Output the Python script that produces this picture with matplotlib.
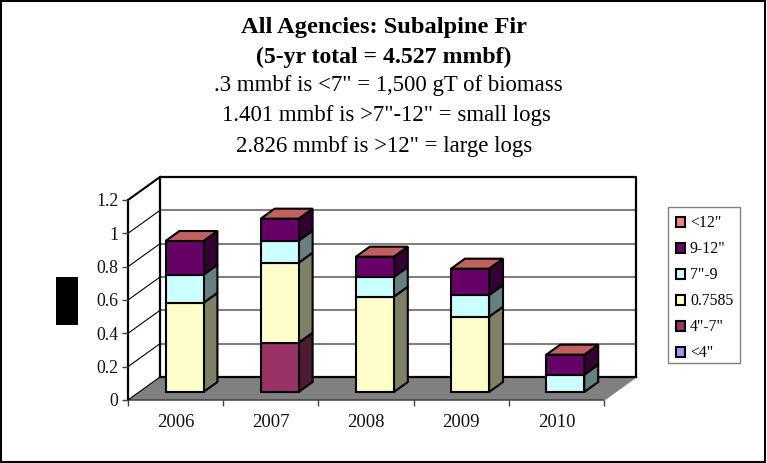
import matplotlib
matplotlib.use("Agg")
import matplotlib.pyplot as plt
from matplotlib.patches import Patch, Polygon, Rectangle

W = 767
H = 463
OUTPUT_FILE = "out.png"

years = ["2006", "2007", "2008", "2009", "2010"]
yticks = [0, 0.2, 0.4, 0.6, 0.8, 1, 1.2]
ytick_labels = ["0", "0.2", "0.4", "0.6", "0.8", "1", "1.2"]

# series, bottom to top of each stack
under_4 = [0, 0, 0, 0, 0]
from_4_to_7 = [0, 0.296, 0, 0, 0]
col_7585 = [0.535, 0.48, 0.572, 0.452, 0]
from_7_to_9 = [0.169, 0.132, 0.118, 0.13, 0.104]
from_9_to_12 = [0.202, 0.132, 0.122, 0.158, 0.12]
under_12 = [0, 0, 0, 0, 0]

series = [under_4, from_4_to_7, col_7585, from_7_to_9, from_9_to_12, under_12]
names = ['<4"', '4"-7"', "0.7585", '7"-9', '9-12"', '<12"']
colors = ["#9999FF", "#993366", "#FFFFCC", "#CCFFFF", "#660066", "#FF8080"]
side_colors = ["#4D4D80", "#4D1A33", "#808066", "#668080", "#330033", "#804040"]
top_color = "#C06060"

title_lines = [
    ("All Agencies: Subalpine Fir", "bold", 384, 28, 17.6),
    ("(5-yr total = 4.527 mmbf)", "bold", 384, 57, 17.1),
    ('.3 mmbf is <7" = 1,500 gT of biomass', "normal", 388, 86, 16.4),
    ('1.401 mmbf is >7"-12" = small logs', "normal", 386, 116, 16.4),
    ('2.826 mmbf is >12" = large logs', "normal", 384, 146, 16.4),
]

plt.rcParams["font.family"] = ["Liberation Serif", "DejaVu Serif"]

fig = plt.figure(figsize=(W / 100, H / 100), dpi=100)
ax = fig.add_axes([128 / W, (H - 400) / H, 476 / W, 200 / H])
ax.set_xlim(0, 5)
ax.set_ylim(0, 1.2)
ax.patch.set_visible(False)
for s in ax.spines.values():
    s.set_visible(False)

# oblique depth: one unit of z moves 32 px right and 23 px up
DX = 32 / 476 * 5
DY = 23 / 200 * 1.2


def pt(x, y, z):
    return (x + z * DX, y + z * DY)


def face(points, color, edge="black", lw=1.5, zorder=3):
    ax.add_patch(Polygon(points, closed=True, facecolor=color, edgecolor=edge,
                         linewidth=lw, clip_on=False, zorder=zorder, joinstyle="miter"))


# floor and walls
face([pt(0, 0, 0), pt(5, 0, 0), pt(5, 0, 1), pt(0, 0, 1)], "#808080", edge="none", zorder=1)
ax.plot(*zip(pt(0, 0, 0), pt(5, 0, 0)), color="#404040", lw=1.1, clip_on=False, zorder=1.5)
ax.plot(*zip(pt(5, 0, 0), pt(5, 0, 1)), color="#808080", lw=1.1, clip_on=False, zorder=1.5)
for t in yticks[1:-1]:
    ax.plot(*zip(pt(0, t, 1), pt(5, t, 1)), color="#808080", lw=1.5, clip_on=False, zorder=1.2)
    ax.plot(*zip(pt(0, t, 0), pt(0, t, 1)), color="black", lw=0.8, clip_on=False, zorder=1.2)
ax.plot(*zip(pt(0, 0, 0), pt(0, 0, 1)), color="black", lw=0.8, clip_on=False, zorder=1.5)
ax.plot(*zip(pt(0, 0, 1), pt(5, 0, 1)), color="black", lw=1.6, clip_on=False, zorder=1.5)
ax.plot(*zip(pt(0, 0, 1), pt(0, 1.2, 1), pt(5, 1.2, 1), pt(5, 0, 1)), color="black", lw=1.6,
        clip_on=False, zorder=1.5)
ax.plot(*zip(pt(0, 1.2, 0), pt(0, 1.2, 1)), color="black", lw=1.5, clip_on=False, zorder=1.5)
ax.plot(*zip(pt(0, 0, 0), pt(0, 1.2, 0)), color="black", lw=1.6, clip_on=False, zorder=1.5)

# stacked bars
BAR_W = 38 / 476 * 5
Z0 = 8 / 23
Z1 = 18 / 23
for i in range(len(years)):
    x0 = i + 0.5 - BAR_W / 2 - Z0 * DX + 0.0935
    x1 = x0 + BAR_W
    bottom = 0
    for vals, col, side in zip(series, colors, side_colors):
        v = vals[i]
        if v == 0:
            continue
        top = bottom + v
        face([pt(x1, bottom, Z0), pt(x1, bottom, Z1), pt(x1, top, Z1), pt(x1, top, Z0)], side)
        face([pt(x0, bottom, Z0), pt(x1, bottom, Z0), pt(x1, top, Z0), pt(x0, top, Z0)], col)
        bottom = top
    face([pt(x0, bottom, Z0), pt(x1, bottom, Z0), pt(x1, bottom, Z1), pt(x0, bottom, Z1)], top_color)

# ticks
ax.set_yticks(yticks)
ax.set_yticklabels(ytick_labels)
ax.set_xticks(range(6))
ax.set_xticklabels([])
ax.set_xticks([i + 0.5 for i in range(5)], labels=years, minor=True)
ax.tick_params(axis="y", length=4, width=1, color="#404040", labelsize=12.8, pad=3, labelcolor="#111111")
ax.tick_params(axis="x", which="major", length=4, width=1, color="#404040")
ax.tick_params(axis="x", which="minor", length=0, labelsize=13.5, pad=10, labelcolor="#111111")

# titles
for text, weight, x, y, size in title_lines:
    fig.text(x / W, 1 - y / H, text, ha="center", va="center", fontweight=weight,
             fontsize=size, color="black")

# legend, its box drawn separately because the auto frame comes out too tall
fig.add_artist(Rectangle((668 / W, 1 - 363 / H), 72 / W, 156 / H, transform=fig.transFigure,
                         facecolor="white", edgecolor="#808080", linewidth=1.0))
handles = [Patch(facecolor=c, edgecolor="black", linewidth=1.5, label=n)
           for c, n in zip(colors[::-1], names[::-1])]
fig.legend(handles=handles, loc="upper left", bbox_to_anchor=(668 / W, 1 - 207 / H),
           fontsize=11.3, frameon=False,
           handlelength=0.58, handleheight=0.58, handletextpad=0.3, labelspacing=0.64,
           borderpad=0.52, borderaxespad=0)

# blacked-out axis title and outer frame
fig.add_artist(Rectangle((56 / W, 1 - 325 / H), 22 / W, 48 / H, transform=fig.transFigure,
                         facecolor="black", edgecolor="none"))
fig.add_artist(Rectangle((1 / W, 1 / H), 764 / W, 461 / H, transform=fig.transFigure,
                         facecolor="none", edgecolor="black", linewidth=1.5))

fig.savefig(OUTPUT_FILE, dpi=100)
